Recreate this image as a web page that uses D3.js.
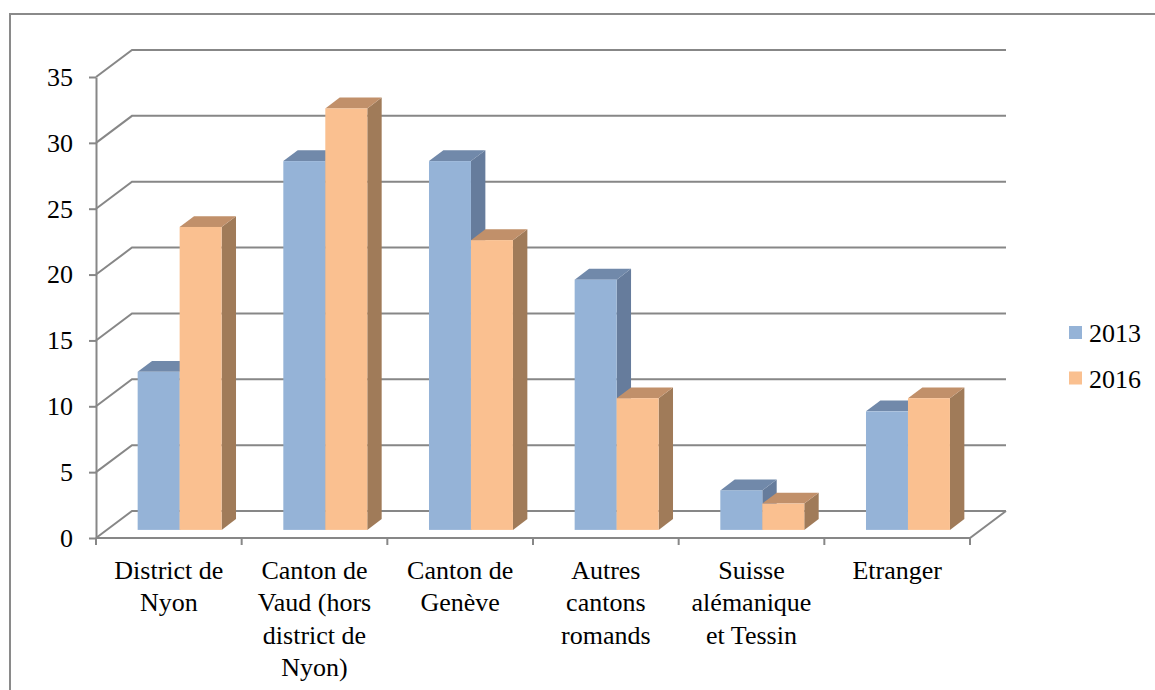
<!DOCTYPE html>
<html><head><meta charset="utf-8">
<script src="https://cdn.jsdelivr.net/npm/d3@7"></script>
<style>body{margin:0;background:#fff}svg{display:block}
svg text{font-family:"Liberation Serif","Times New Roman",serif !important;}</style>
</head><body><svg id="c" width="1155" height="690"></svg>
<script>
const categories = [["District de","Nyon"],["Canton de","Vaud (hors","district de","Nyon)"],["Canton de","Genève"],["Autres","cantons","romands"],["Suisse","alémanique","et Tessin"],["Etranger"]];
const seriesNames = ["2013","2016"];
const values2013 = [12, 28, 28, 19, 3, 9];
const values2016 = [23, 32, 22, 10, 2, 10];
const yTicks = [0,5,10,15,20,25,30,35];

const svg = d3.select("#c");
const grid = "#878787";
const FS = "26px";
const DX = 36, DY = -27; // depth of floor
const x0 = 96, x1 = 970;
const y = d3.scaleLinear().domain([0,35]).range([538,77]);
const catIdx = categories.map((d,i)=>i);
const xc = d3.scaleBand().domain(catIdx).range([x0,x1]).padding(0);
const xs = d3.scaleBand().domain(seriesNames).range([0,xc.bandwidth()]).paddingInner(0).paddingOuter(0.735);

// frame
svg.append("rect").attr("x",10).attr("y",14).attr("width",1160).attr("height",700)
  .attr("fill","none").attr("stroke","#8a8a8a").attr("stroke-width",2);

// walls gridlines
const g = svg.append("g");
yTicks.forEach(v=>{
  const yf = y(v);
  g.append("path").attr("d",`M${x0},${yf}L${x0+DX},${yf+DY}L${x1+DX},${yf+DY}`)
    .attr("fill","none").attr("stroke",grid).attr("stroke-width",2);
});
// floor front and right edges
g.append("path").attr("d",`M${x0},${y(0)}L${x1},${y(0)}L${x1+DX},${y(0)+DY}`)
  .attr("fill","none").attr("stroke",grid).attr("stroke-width",2);
// x ticks
catIdx.concat([categories.length]).forEach(i=>{
  const xx = i<categories.length ? xc(i) : x1;
  g.append("line").attr("x1",xx).attr("x2",xx).attr("y1",y(0)).attr("y2",y(0)+7)
    .attr("stroke",grid).attr("stroke-width",2);
});
// y axis
const ax = svg.append("g").attr("transform",`translate(${x0},0)`)
  .call(d3.axisLeft(y).tickValues(yTicks).tickSize(7).tickSizeOuter(0).tickPadding(16));
ax.attr("font-family",null).attr("font-size",null);
ax.select(".domain").attr("stroke",grid).attr("stroke-width",2);
ax.selectAll(".tick line").attr("stroke",grid).attr("stroke-width",2);
ax.selectAll(".tick text").style("font-size",FS).attr("fill","#000");

// bars
const colors = {"2013":{front:"#95b3d7",top:"#7189aa",side:"#667c9c"},
                "2016":{front:"#fac090",top:"#c1906a",side:"#a07b59"}};
const fStart = 0.3, fDepth = 0.4;
const base = y(0) + DY*fStart;
const dx = DX*fDepth, dy = DY*fDepth;
const bars = svg.append("g");
categories.forEach((c,i)=>{
  [["2013",values2013[i]],["2016",values2016[i]]].forEach(([s,v])=>{
    const col = colors[s];
    const bx = xc(i) + xs(s) + DX*fStart;
    const w = xs.bandwidth();
    const top = base - (y(0) - y(v));
    bars.append("polygon")
      .attr("points",`${bx+w},${top} ${bx+w+dx},${top+dy} ${bx+w+dx},${base+dy} ${bx+w},${base}`)
      .attr("fill",col.side);
    bars.append("polygon")
      .attr("points",`${bx},${top} ${bx+w},${top} ${bx+w+dx},${top+dy} ${bx+dx},${top+dy}`)
      .attr("fill",col.top);
    bars.append("rect").attr("x",bx).attr("y",top).attr("width",w).attr("height",base-top)
      .attr("fill",col.front);
  });
});

// category labels
const lab = svg.append("g").style("font-size",FS).attr("text-anchor","middle");
categories.forEach((lines,i)=>{
  const t = lab.append("text").attr("x",xc(i)+xc.bandwidth()/2).attr("y",579);
  lines.forEach((l,j)=>t.append("tspan").attr("x",xc(i)+xc.bandwidth()/2).attr("y",579+j*32.3).text(l));
});

// legend
const leg = svg.append("g");
seriesNames.forEach((s,i)=>{
  const ly = 326 + i*45.5;
  leg.append("rect").attr("x",1069).attr("y",ly).attr("width",13).attr("height",13).attr("fill",colors[s].front);
  leg.append("text").attr("x",1089).attr("y",ly+16).style("font-size",FS).text(s);
});
</script></body></html>
